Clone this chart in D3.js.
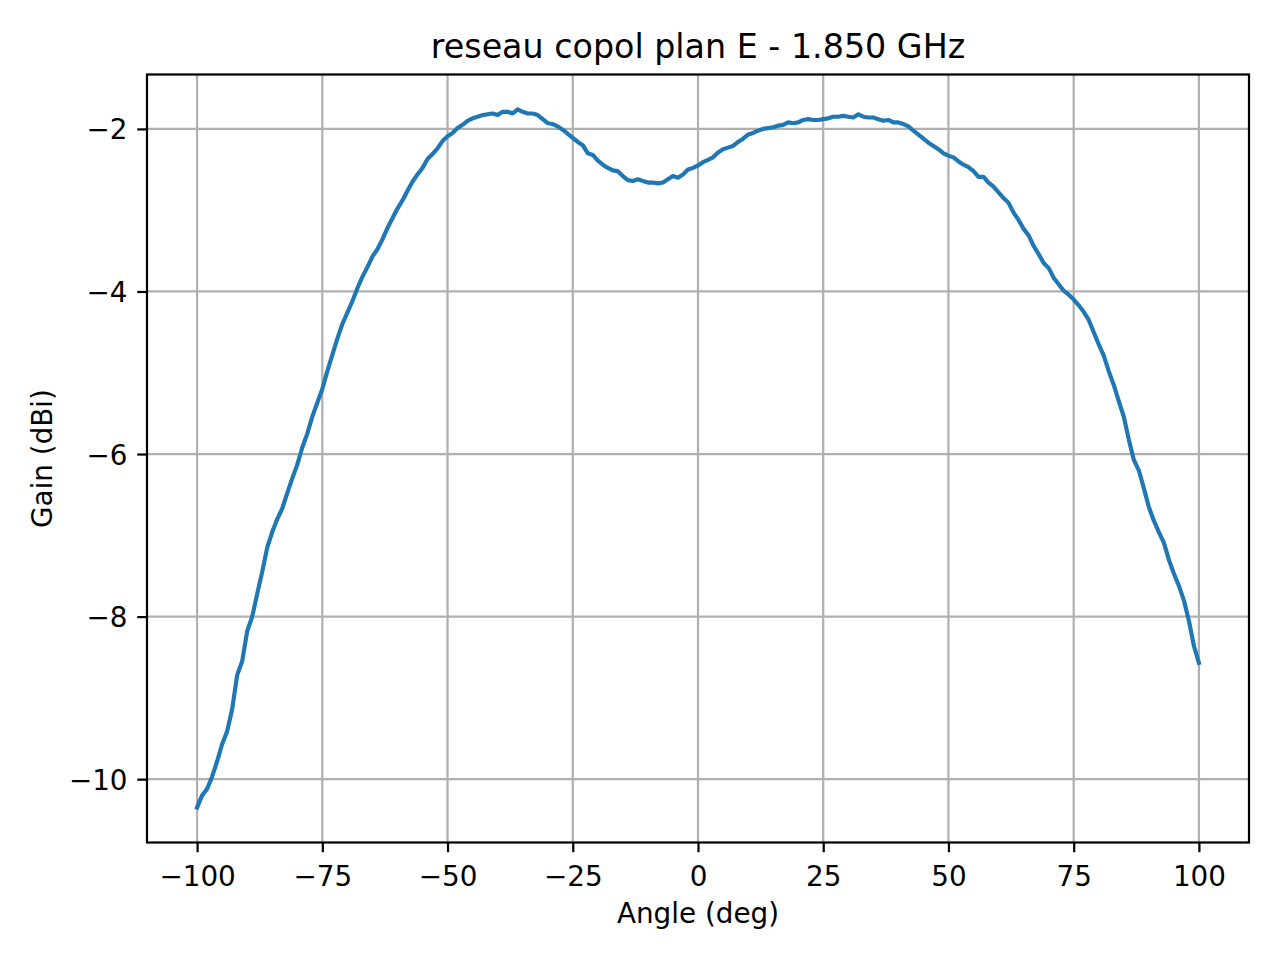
<!DOCTYPE html>
<html>
<head>
<meta charset="utf-8">
<script src="https://cdn.jsdelivr.net/npm/d3@7"></script>
<style>
  body { margin: 0; background: #fff; }
  svg text { font-family: "DejaVu Sans", sans-serif; fill: #000; }
</style>
</head>
<body>
<div id="chart"></div>
<script>
/**
 * DATA
 * */
const angles = [
  -100, -99, -98, -97, -96, -95, -94, -93, -92, -91, -90, -89, -88, -87, -86, -85, -84, -83, -82, -81,
  -80, -79, -78, -77, -76, -75, -74, -73, -72, -71, -70, -69, -68, -67, -66, -65, -64, -63, -62, -61,
  -60, -59, -58, -57, -56, -55, -54, -53, -52, -51, -50, -49, -48, -47, -46, -45, -44, -43, -42, -41,
  -40, -39, -38, -37, -36, -35, -34, -33, -32, -31, -30, -29, -28, -27, -26, -25, -24, -23, -22, -21,
  -20, -19, -18, -17, -16, -15, -14, -13, -12, -11, -10, -9, -8, -7, -6, -5, -4, -3, -2, -1,
  0, 1, 2, 3, 4, 5, 6, 7, 8, 9, 10, 11, 12, 13, 14, 15, 16, 17, 18, 19,
  20, 21, 22, 23, 24, 25, 26, 27, 28, 29, 30, 31, 32, 33, 34, 35, 36, 37, 38, 39,
  40, 41, 42, 43, 44, 45, 46, 47, 48, 49, 50, 51, 52, 53, 54, 55, 56, 57, 58, 59,
  60, 61, 62, 63, 64, 65, 66, 67, 68, 69, 70, 71, 72, 73, 74, 75, 76, 77, 78, 79,
  80, 81, 82, 83, 84, 85, 86, 87, 88, 89, 90, 91, 92, 93, 94, 95, 96, 97, 98, 99,
  100
];

// gain in dBi, one value per angle above
const gains = [
  -10.35, -10.20, -10.12, -9.97, -9.78, -9.57, -9.41, -9.14, -8.72, -8.55,
  -8.18, -8.00, -7.72, -7.45, -7.15, -6.96, -6.80, -6.67, -6.48, -6.30,
  -6.13, -5.92, -5.75, -5.54, -5.37, -5.20, -4.98, -4.78, -4.58, -4.40,
  -4.26, -4.12, -3.96, -3.82, -3.70, -3.57, -3.48, -3.36, -3.22, -3.10,
  -2.98, -2.88, -2.76, -2.65, -2.56, -2.48, -2.37, -2.31, -2.24, -2.15,
  -2.09, -2.05, -1.99, -1.95, -1.90, -1.87, -1.85, -1.83, -1.82, -1.81,
  -1.83, -1.79, -1.79, -1.81, -1.76, -1.79, -1.81, -1.81, -1.83, -1.88,
  -1.93, -1.94, -1.97, -2.01, -2.06, -2.11, -2.16, -2.20, -2.30, -2.32,
  -2.39, -2.44, -2.48, -2.51, -2.52, -2.58, -2.63, -2.64, -2.62, -2.64,
  -2.66, -2.66, -2.67, -2.66, -2.62, -2.58, -2.60, -2.56, -2.50, -2.48,
  -2.45, -2.41, -2.38, -2.35, -2.29, -2.25, -2.23, -2.21, -2.16, -2.12,
  -2.07, -2.05, -2.02, -2.00, -1.99, -1.98, -1.96, -1.95, -1.92, -1.93,
  -1.92, -1.89, -1.88, -1.89, -1.89, -1.88, -1.87, -1.85, -1.85, -1.84,
  -1.85, -1.86, -1.82, -1.85, -1.86, -1.86, -1.88, -1.90, -1.89, -1.92,
  -1.92, -1.94, -1.97, -2.02, -2.07, -2.12, -2.17, -2.21, -2.25, -2.30,
  -2.33, -2.35, -2.40, -2.44, -2.47, -2.52, -2.59, -2.59, -2.66, -2.71,
  -2.78, -2.85, -2.91, -3.03, -3.12, -3.23, -3.31, -3.44, -3.54, -3.65,
  -3.71, -3.83, -3.91, -3.99, -4.04, -4.10, -4.17, -4.25, -4.35, -4.50,
  -4.65, -4.79, -4.98, -5.15, -5.35, -5.54, -5.82, -6.07, -6.20, -6.42,
  -6.65, -6.82, -6.96, -7.09, -7.30, -7.47, -7.62, -7.80, -8.05, -8.36,
  -8.57
];

const xTicks = [-100, -75, -50, -25, 0, 25, 50, 75, 100];
const yTicks = [-10, -8, -6, -4, -2];

const titleText = "reseau copol plan E - 1.850 GHz";
const xLabel = "Angle (deg)";
const yLabel = "Gain (dBi)";

/**
 * CONSTANTS
 * */
const width = 1280,
  height = 960,
  margin = { top: 74.5, bottom: 117.5, left: 147, right: 31 };

const lineColor = "#1f77b4";
const gridColor = "#b0b0b0";
const thin = 2.22;      // 0.8pt at 200 dpi
const tickLen = 9.72;   // 3.5pt
const tickPad = 9.72;
const fontSize = 27.8;  // 10pt
const titleSize = 33.3; // 12pt

const minus = v => (v < 0 ? "\u2212" + Math.abs(v) : String(v));

// matplotlib style 5% autoscale margins
function padded([lo, hi]) {
  const m = (hi - lo) * 0.05;
  return [lo - m, hi + m];
}

const svg = d3.select("#chart")
  .append("svg")
  .attr("width", width)
  .attr("height", height);

const x = d3.scaleLinear()
  .domain(padded(d3.extent(angles)))
  .range([margin.left, width - margin.right]);

const y = d3.scaleLinear()
  .domain(padded(d3.extent(gains)))
  .range([height - margin.bottom, margin.top]);

const points = angles.map((a, i) => ({ a, g: gains[i] }));

// + GRID
const grid = svg.append("g");
grid.selectAll(".gx")
  .data(xTicks)
  .join("line")
  .attr("x1", d => x(d)).attr("x2", d => x(d))
  .attr("y1", margin.top).attr("y2", height - margin.bottom)
  .attr("stroke", gridColor).attr("stroke-width", thin);
grid.selectAll(".gy")
  .data(yTicks)
  .join("line")
  .attr("class", "gy")
  .attr("y1", d => y(d)).attr("y2", d => y(d))
  .attr("x1", margin.left).attr("x2", width - margin.right)
  .attr("stroke", gridColor).attr("stroke-width", thin);

// + LINE
const line = d3.line()
  .x(d => x(d.a))
  .y(d => y(d.g));

svg.append("path")
  .datum(points)
  .attr("d", line)
  .attr("fill", "none")
  .attr("stroke", lineColor)
  .attr("stroke-width", 4.17)
  .attr("stroke-linejoin", "round")
  .attr("stroke-linecap", "square");

// + AXES
const xAxis = d3.axisBottom(x)
  .tickValues(xTicks)
  .tickSize(tickLen)
  .tickPadding(tickPad)
  .tickFormat(minus);

const yAxis = d3.axisLeft(y)
  .tickValues(yTicks)
  .tickSize(tickLen)
  .tickPadding(tickPad)
  .tickFormat(minus);

const gx = svg.append("g")
  .attr("transform", `translate(0,${height - margin.bottom})`)
  .call(xAxis);
const gy = svg.append("g")
  .attr("transform", `translate(${margin.left},0)`)
  .call(yAxis);

[gx, gy].forEach(g => {
  g.select(".domain").remove();
  g.selectAll(".tick line").attr("stroke", "#000").attr("stroke-width", thin);
  g.selectAll(".tick text")
    .attr("font-family", "DejaVu Sans")
    .attr("font-size", fontSize)
    .attr("fill", "#000");
});
gx.selectAll(".tick text").attr("dy", null).attr("y", 43);
gy.selectAll(".tick text").attr("dy", null).attr("y", 10);

// spines
svg.append("rect")
  .attr("x", margin.left)
  .attr("y", margin.top)
  .attr("width", width - margin.left - margin.right)
  .attr("height", height - margin.top - margin.bottom)
  .attr("fill", "none")
  .attr("stroke", "#000")
  .attr("stroke-width", thin);

// + LABELS
svg.append("text")
  .attr("x", (margin.left + width - margin.right) / 2)
  .attr("y", 57.8)
  .attr("text-anchor", "middle")
  .attr("font-size", titleSize)
  .text(titleText);

svg.append("text")
  .attr("x", (margin.left + width - margin.right) / 2)
  .attr("y", 923)
  .attr("text-anchor", "middle")
  .attr("font-size", fontSize)
  .text(xLabel);

svg.append("text")
  .attr("transform", `translate(51.7,${(margin.top + height - margin.bottom) / 2}) rotate(-90)`)
  .attr("text-anchor", "middle")
  .attr("font-size", fontSize)
  .text(yLabel);
</script>
</body>
</html>
